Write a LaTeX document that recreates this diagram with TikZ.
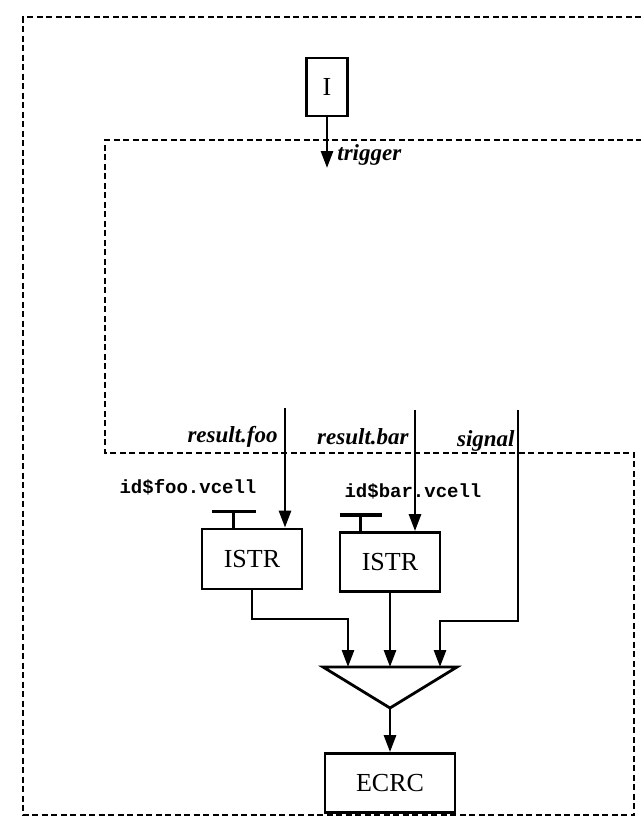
\documentclass[tikz,border=0pt]{standalone}
\usepackage{fontspec}
\setmainfont{Liberation Serif}
\setmonofont{Liberation Mono}
\usetikzlibrary{positioning, arrows.meta, calc}
\tikzset{every picture/.append style={thick}}

\begin{document}
\begin{tikzpicture}[x=1pt, y=-1pt,
        wire/.style={line width=2.8pt},
        blockbox/.style={draw, rectangle, line width=2.8pt, inner sep=0pt, font=\fontsize{26}{28}\selectfont},
        sigarrow/.style={line width=2.8pt, -{Triangle[length=17pt, width=12pt]}},
        region/.style={dash pattern=on 6pt off 3.5pt, line width=2.8pt},
        siglabel/.style={font=\fontsize{23}{25}\selectfont\bfseries\itshape, inner sep=0pt},
        cellname/.style={font=\ttfamily\bfseries\fontsize{19}{21}\selectfont, inner sep=0pt}]
        \useasboundingbox (0,0) rectangle (641,833);

        % Region boundaries
        \draw[region] (641,17) -- (23,17) -- (23,815) -- (634,815) -- (634,453)
            -- (105,453) -- (105,140) -- (641,140);

        % Blocks
        \node[blockbox, minimum width=41pt, minimum height=58pt] (init) at (327,87) {I};
        \node[blockbox, minimum width=100pt, minimum height=60pt] (istrfoo) at (252,559) {ISTR};
        \node[blockbox, minimum width=100pt, minimum height=59pt] (istrbar) at (390,562) {ISTR};
        \node[blockbox, minimum width=130pt, minimum height=59pt] (ecrc) at (390,783) {ECRC};

        % Merge triangle
        \coordinate (mergeleft) at (323,667);
        \coordinate (mergeright) at (457,667);
        \coordinate (mergeapex) at (390,708);
        \draw[wire, line join=miter] (mergeleft) -- (mergeright) -- (mergeapex) -- cycle;

        % Signal ends and bends
        \coordinate (triggerend) at (327,168);
        \coordinate (footop) at (285,408);
        \coordinate (bartop) at (415,410);
        \coordinate (signaltop) at (518,410);
        \coordinate (foobend) at (348,619);
        \coordinate (fooin) at (348,667);
        \coordinate (sigbend) at (440,621);
        \coordinate (sigin) at (440,667);

        % Labels
        \node[siglabel, anchor=base west] (triggerlabel) at (337,160) {trigger};
        \node[siglabel, anchor=base east] (foolabel) at (278,442) {result.foo};
        \node[siglabel, anchor=base east] (barlabel) at (409,444) {result.bar};
        \node[siglabel, anchor=base east] (signallabel) at (515,446) {signal};
        \node[cellname, anchor=base] (foocell) at (188,493) {id\$foo.vcell};
        \node[cellname, anchor=base] (barcell) at (413,497) {id\$bar.vcell};

        % Cell inputs
        \draw[line width=3.4pt] ([xshift=33pt]istrfoo.north west) -- ++(0,-16) ++(-22,0) -- ++(44,0);
        \draw[line width=3.4pt] ([xshift=22pt]istrbar.north west) -- ++(0,-16) ++(-21,0) -- ++(42,0);

        % Signals
        \draw[sigarrow] (init.south) -- (triggerend);
        \draw[sigarrow] (footop) -- (footop |- istrfoo.north);
        \draw[sigarrow] (bartop) -- (bartop |- istrbar.north);
        \draw[sigarrow] (istrfoo.south) |- (foobend) -- (fooin);
        \draw[sigarrow] (istrbar.south) -- (istrbar.south |- mergeleft);
        \draw[sigarrow] (signaltop) |- (sigbend) -- (sigin);
        \draw[sigarrow] (mergeapex) -- (ecrc.north);
    \end{tikzpicture}
\end{document}
